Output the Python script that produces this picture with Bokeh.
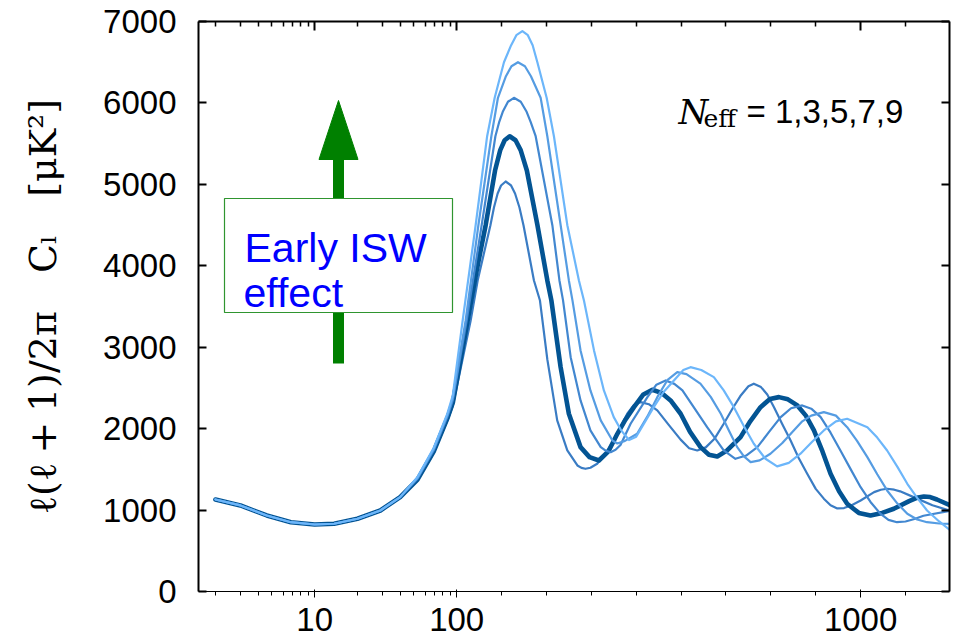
import math
from bokeh.plotting import figure
from bokeh.models import (Range1d, LinearAxis, FixedTicker, Label, BoxAnnotation,
                          ColumnDataSource, CustomJSTransform, CustomJSTickFormatter)
from bokeh.transform import transform
from bokeh.embed import file_html
from bokeh.resources import INLINE

# ---------------- data ----------------
# multipoles shared by all five spectra at low ell
ell_low = [2, 3, 4.6, 6.8, 10, 13.7, 20, 29, 40]
cl_low = [1130, 1057, 934, 851, 823, 832, 893, 995, 1159]

# N_eff = 1
ell_n1 = [53, 69, 86, 94, 131.2, 146.8, 175.1, 183.1, 191.3, 198.9, 209.2, 221.2, 230.1, 239.9, 249, 272.2, 285.6,
          302, 324, 346.5, 369, 378, 387, 398, 413, 432, 450, 480, 495, 510, 528, 547, 572, 599, 618, 636, 655,
          675, 695, 715, 732, 750, 762, 778, 792, 807, 825, 844, 862, 881, 900, 918, 933, 948, 963, 980, 1000,
          1030, 1045, 1059, 1075, 1088, 1118, 1160, 1200]
cl_n1 = [1365, 1705, 2100, 2280, 3328, 3819, 4495, 4716, 4888, 4986, 5035, 4986, 4888, 4716, 4495, 3819, 3573,
         2850, 2101, 1732, 1548, 1518, 1507, 1520, 1569, 1700, 1855, 2183, 2290, 2326, 2300, 2224, 2050, 1865, 1760, 1732, 1770,
         1880, 2060, 2250, 2400, 2520, 2552, 2510, 2420, 2264, 2060, 1855, 1640, 1446, 1260, 1140, 1060, 1020, 1025, 1060, 1118,
         1220, 1250, 1262, 1250, 1230, 1159, 1060, 990]

# N_eff = 3 (thick line)
ell_n3 = [53, 69, 86, 94, 124.5, 144.6, 164.6, 185.5, 197.1, 206.9, 218.1, 231.2, 242.6, 256.4, 280, 302, 311,
          331.6, 350, 376, 396, 417, 438, 458, 476, 495, 516, 536, 556, 576.6, 599, 620, 643.4, 662, 680.6, 702,
          732.5, 754, 777, 798, 818, 838, 859, 878, 896, 915, 933, 952, 970, 996, 1022, 1048, 1074, 1108, 1125,
          1141, 1155, 1170, 1200]
cl_n3 = [1375, 1720, 2125, 2320, 3328, 3942, 4498, 5170, 5420, 5542, 5591, 5542, 5420, 5170, 4498, 3820, 3575,
         2755, 2183, 1773, 1650, 1609, 1720, 1937, 2110, 2264, 2420, 2478, 2440, 2346, 2183, 1960, 1773, 1680, 1658, 1730,
         1896, 2090, 2264, 2365, 2387, 2360, 2285, 2160, 1978, 1720, 1446, 1230, 1077, 965, 934, 965, 1016, 1110, 1150,
         1167, 1160, 1130, 1057]

# N_eff = 5
ell_n5 = [53, 69, 86, 94, 122.3, 155.7, 186.3, 194.9, 202.7, 214.3, 227.6, 242.8, 255.9, 264.8, 276, 313.2,
          329, 337, 354, 376, 398, 421, 432, 443, 454, 465, 487.5, 525, 545, 565.5, 585, 603, 630, 658, 695, 721,
          745, 770, 796, 822, 845, 870, 890, 911, 933, 955, 978, 1000, 1022, 1044, 1062, 1081, 1100, 1120, 1140, 1200]
cl_n5 = [1385, 1735, 2145, 2350, 3328, 4498, 5591, 5768, 5891, 6014, 6063, 6014, 5891, 5768, 5591, 4498,
         3820, 3575, 2878, 2346, 1978, 1773, 1730, 1711, 1740, 1800, 2060, 2387, 2540, 2592, 2550, 2470, 2250, 2018, 1732, 1630,
         1670, 1773, 1960, 2141, 2250, 2285, 2245, 2141, 1950, 1732, 1500, 1281, 1100, 955, 880, 851, 860, 890, 930, 990]

# N_eff = 7
ell_n7 = [53, 69, 86, 94, 120, 148.4, 177.3, 192, 209.8, 222.1, 236.6, 252.1, 265.5, 287.1, 302, 331.7, 350, 358,
          376, 398, 421, 447, 458, 475, 502, 525, 547, 570, 591.5, 612, 643, 666, 688.5, 707, 725, 740, 755, 775,
          799, 825, 851, 870, 890, 918, 945, 970, 992, 1015, 1037, 1059, 1082, 1104, 1126, 1148, 1175, 1200]
cl_n7 = [1395, 1750, 2165, 2380, 3328, 4498, 5591, 6063, 6328, 6451, 6500, 6451, 6328, 6063, 5591, 4498, 3820, 3575,
         2961, 2469, 2101, 1855, 1818, 1850, 1937, 2150, 2387, 2600, 2694, 2670, 2552, 2390, 2183, 1970, 1773, 1660, 1589, 1610,
         1692, 1820, 1978, 2090, 2160, 2203, 2160, 2018, 1850, 1650, 1440, 1241, 1080, 955, 885, 851, 835, 831]

# N_eff = 9
ell_n9 = [53, 69, 86, 94, 113.4, 142.3, 167.9, 184.7, 205.4, 221.4, 233, 246.4, 258.6, 269.3, 279.8, 300.5, 316.7,
          346.6, 372.4, 383.6, 406, 428, 450, 467, 484, 500, 539, 561, 584, 605, 621, 645, 673, 695, 717.6, 740,
          762, 788, 814, 840, 866, 892, 918, 945, 970, 1015, 1037, 1059, 1082, 1104, 1126, 1148, 1175, 1200]
cl_n9 = [1405, 1765, 2185, 2410, 3328, 4498, 5591, 6063, 6500, 6709, 6832, 6881, 6832, 6709, 6500, 6063, 5591,
         4498, 3819, 3573, 2961, 2469, 2141, 1975, 1860, 1900, 2264, 2450, 2592, 2720, 2755, 2720, 2633, 2470, 2264, 2030,
         1814, 1630, 1536, 1580, 1692, 1840, 1978, 2090, 2121, 2018, 1890, 1732, 1530, 1323, 1150, 995, 860, 749]

neff_values = [1, 3, 5, 7, 9]
x_major_ticks = [10, 100, 1000]
x_minor_ticks = [2, 3, 4, 5, 6, 7, 8, 9, 20, 30, 40, 50, 60, 70, 80, 90,
                 200, 300, 400, 500, 600, 700, 800, 900, 1100]
y_ticks = [0, 1000, 2000, 3000, 4000, 5000, 6000, 7000]
ell_range = [1.52, 1198]
y_range = [0, 7000]

# ---------------- axis: log below ell=100, linear above ----------------
K_LIN = (404.0 / 900.0) / 142.0   # length of one unit of ell above 100, in decades


def axis_x(ell):
    return math.log10(ell) if ell <= 100 else 2.0 + (ell - 100.0) * K_LIN


ell_axis = CustomJSTransform(args=dict(k=K_LIN), func="""
    return x <= 100 ? Math.log10(x) : 2.0 + (x - 100.0) * k;
""", v_func="""
    const out = new Float64Array(xs.length);
    for (let i = 0; i < xs.length; i++) {
        const l = xs[i];
        out[i] = l <= 100 ? Math.log10(l) : 2.0 + (l - 100.0) * k;
    }
    return out;
""")

X0, X1 = axis_x(ell_range[0]), axis_x(ell_range[1])
FL, FR, FT, FB = 198, 949, 21, 591   # frame edges in page pixels
W, H = 957, 640


def px_x(px):   # page pixel -> axis coordinate (annotation placement only)
    return X0 + (px - FL) / (FR - FL) * (X1 - X0)


def px_y(py):
    return y_range[0] + (FB - py) / (FB - FT) * (y_range[1] - y_range[0])


p = figure(width=W, height=H, output_backend="svg", toolbar_location=None,
           x_range=Range1d(X0, X1), y_range=Range1d(*y_range),
           min_border_left=FL, min_border_right=W - FR, min_border_top=FT, min_border_bottom=H - FB)
p.grid.visible = False
p.outline_line_color = None
p.background_fill_color = "white"
p.border_fill_color = "white"

xticker = FixedTicker(ticks=[axis_x(t) for t in x_major_ticks],
                      minor_ticks=[axis_x(t) for t in x_minor_ticks])
xfmt = CustomJSTickFormatter(args=dict(k=K_LIN), code="""
    if (tick <= 2.0000001) return String(Math.round(Math.pow(10, tick)));
    return String(Math.round(100 + (tick - 2.0) / k));
""")
yticker = FixedTicker(ticks=y_ticks, minor_ticks=[])
blank = CustomJSTickFormatter(code="return '';")

TICK_FONT = "Liberation Sans"
TICK_SIZE = "33px"

for ax in p.xaxis:
    ax.ticker = xticker
    ax.formatter = xfmt
    ax.major_label_text_font = TICK_FONT
    ax.major_label_text_font_size = TICK_SIZE
    ax.major_label_text_color = "black"
    ax.major_label_standoff = 10
for ax in p.yaxis:
    ax.ticker = yticker
    ax.major_label_text_font = TICK_FONT
    ax.major_label_text_font_size = TICK_SIZE
    ax.major_label_text_color = "black"
    ax.major_label_standoff = 22
    ax.axis_label = "\u2113(\u2113\u2005+\u20051)/2\u03c0\u2003C\u2097\u2003[\u03bcK\u00b2]"
    ax.axis_label_text_font = "DejaVu Serif"
    ax.axis_label_text_font_style = "normal"
    ax.axis_label_text_font_size = "38px"
    ax.axis_label_text_color = "black"
    ax.axis_label_standoff = 35

top = LinearAxis(ticker=xticker, formatter=blank)
right = LinearAxis(ticker=yticker, formatter=blank)
p.add_layout(top, "above")
p.add_layout(right, "right")

for ax in [p.xaxis[0], top]:
    ax.major_tick_in = 9
    ax.major_tick_out = 0
    ax.minor_tick_in = 5
    ax.minor_tick_out = 0
for ax in [p.yaxis[0], right]:
    ax.major_tick_in = 8
    ax.major_tick_out = 0
    ax.minor_tick_in = 0
    ax.minor_tick_out = 0
for ax in [p.xaxis[0], top, p.yaxis[0], right]:
    ax.axis_line_width = 2
    ax.axis_line_color = "black"
    ax.major_tick_line_width = 2
    ax.minor_tick_line_width = 1.5
    ax.major_tick_line_color = "black"
    ax.minor_tick_line_color = "black"
for ax in [top, right]:
    ax.major_label_text_font_size = "1px"
    ax.major_label_standoff = 0

# ---------------- spectra (drawn in order of N_eff) ----------------
curves = [
    (ell_n1, cl_n1, "#3a7cc4", 2.2),
    (ell_n3, cl_n3, "#035493", 4.6),
    (ell_n5, cl_n5, "#4287d0", 2.2),
    (ell_n7, cl_n7, "#559ce2", 2.2),
    (ell_n9, cl_n9, "#6cb6fa", 2.2),
]
for ell, cl, color, lw in curves:
    assert len(ell) == len(cl)
    src = ColumnDataSource(dict(ell=ell_low + ell, cl=cl_low + cl))
    p.line(x=transform("ell", ell_axis), y="cl", source=src,
           line_color=color, line_width=lw, line_join="round", line_cap="round")

# ---------------- green arrow + box ----------------
GREEN = "#008000"
p.segment(x0=[px_x(338)], y0=[px_y(363)], x1=[px_x(338)], y1=[px_y(156)],
          line_color=GREEN, line_width=11, line_cap="butt")
p.patch(x=[px_x(318.5), px_x(357.5), px_x(338)], y=[px_y(159), px_y(159), px_y(100)],
        fill_color=GREEN, line_color=GREEN, line_width=1)

box = BoxAnnotation(left=px_x(224), right=px_x(452), top=px_y(198), bottom=px_y(312),
                    fill_color="white", fill_alpha=1.0,
                    line_color="#2f952f", line_alpha=1.0, line_width=1.2)
p.add_layout(box)

for txt, xp, yp in [("Early ISW", 244, 247), ("effect", 243, 292)]:
    p.add_layout(Label(x=px_x(xp), y=px_y(yp), text=txt, text_font="Liberation Sans",
                       text_font_size="41px", text_color="#0000ff",
                       text_align="left", text_baseline="alphabetic"))

# ---------------- N_eff annotation ----------------
p.add_layout(Label(x=px_x(678), y=px_y(111), text="N", text_font="DejaVu Serif",
                   text_font_style="italic", text_font_size="34px", text_color="black",
                   text_align="left", text_baseline="alphabetic"))
p.add_layout(Label(x=px_x(703), y=px_y(118), text="eff", text_font="DejaVu Serif",
                   text_font_size="25px", text_color="black",
                   text_align="left", text_baseline="alphabetic"))
p.add_layout(Label(x=px_x(746), y=px_y(111),
                   text="= " + ",".join(str(n) for n in neff_values),
                   text_font="Liberation Sans", text_font_size="33px", text_color="black",
                   text_align="left", text_baseline="alphabetic"))

open("out.html", "w").write(file_html(p, INLINE))
